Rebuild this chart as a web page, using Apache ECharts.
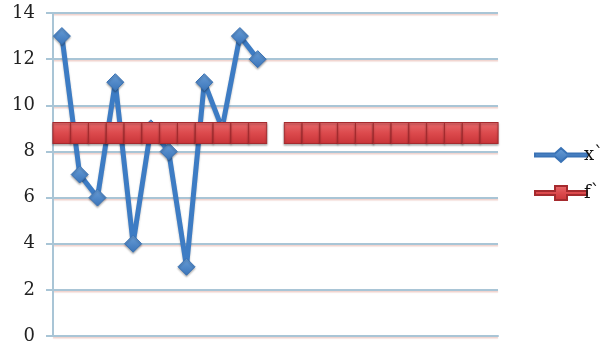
<!DOCTYPE html>
<html>
<head>
<meta charset="utf-8">
<script src="https://cdn.jsdelivr.net/npm/echarts@6/dist/echarts.min.js"></script>
<style>
  html, body { margin: 0; padding: 0; background: #ffffff; }
  #chart { width: 600px; height: 347px; }
</style>
</head>
<body>
<div id="chart"></div>
<script>
// Category positions along the horizontal axis (unlabelled)
const categories = Array.from({ length: 25 }, (_, i) => String(i + 1));

// Series values
const xSeries = [13, 7, 6, 11, 4, 9, 8, 3, 11, 9, 13, 12];
const fSeries = [8.8, 8.8, 8.8, 8.8, 8.8, 8.8, 8.8, 8.8, 8.8, 8.8, 8.8, 8.8, null,
                 8.8, 8.8, 8.8, 8.8, 8.8, 8.8, 8.8, 8.8, 8.8, 8.8, 8.8, 8.8];

// Value axis ticks
const yTicks = { min: 0, max: 14, interval: 2 };

const seriesNames = ['x`', 'f`'];

const chart = echarts.init(document.getElementById('chart'), null, { renderer: 'canvas' });

const gridColor = '#a9c5d6';
const serif = '"DejaVu Serif", "Liberation Serif", serif';

chart.setOption({
  animation: false,
  backgroundColor: '#ffffff',
  grid: { left: 53, right: 102, top: 13, bottom: 11 },
  legend: {
    orient: 'vertical',
    left: 529,
    top: 141,
    itemGap: 20,
    itemWidth: 52,
    itemHeight: 14,
    textStyle: { fontFamily: serif, fontSize: 18, color: '#111', padding: [0, 0, 0, -8] },
    data: [
      { name: seriesNames[0], icon: 'path://M0,5.5 L20,5.5 L26,0 L32,5.5 L52,5.5 L52,8.5 L32,8.5 L26,14 L20,8.5 L0,8.5 Z' },
      { name: seriesNames[1], icon: 'path://M0,5 L20,5 L20,0 L32,0 L32,5 L52,5 L52,9 L32,9 L32,14 L20,14 L20,9 L0,9 Z' }
    ]
  },
  xAxis: {
    type: 'category',
    data: categories,
    boundaryGap: true,
    axisLine: { show: true, lineStyle: { color: gridColor, width: 2 } },
    axisTick: { show: false },
    axisLabel: { show: false, interval: 0 },
    splitLine: { show: false }
  },
  yAxis: {
    type: 'value',
    min: yTicks.min,
    max: yTicks.max,
    interval: yTicks.interval,
    axisLine: { show: true, lineStyle: { color: gridColor, width: 2 } },
    axisTick: { show: true, length: 7, lineStyle: { color: gridColor, width: 2 } },
    axisLabel: { fontFamily: serif, fontSize: 18, color: '#222', margin: 18 },
    splitLine: { show: true, lineStyle: { color: gridColor, width: 2, shadowColor: 'rgba(220,150,140,0.45)', shadowOffsetY: 1.5, shadowBlur: 1 } }
  },
  series: [
    {
      name: seriesNames[0],
      type: 'line',
      data: xSeries,
      showSymbol: true,
      showAllSymbol: true,
      symbol: 'diamond',
      symbolSize: 17,
      z: 2,
      lineStyle: { color: '#3d7cc4', width: 5, shadowColor: 'rgba(0,0,0,0.25)', shadowBlur: 2, shadowOffsetY: 1.5 },
      itemStyle: {
        color: new echarts.graphic.LinearGradient(0, 0, 0, 1, [
          { offset: 0, color: '#6a9fd8' },
          { offset: 1, color: '#3a74b9' }
        ]),
        borderColor: '#3a73b6',
        borderWidth: 1,
        shadowColor: 'rgba(0,0,0,0.3)',
        shadowBlur: 2,
        shadowOffsetY: 1.5
      }
    },
    {
      name: seriesNames[1],
      type: 'line',
      data: fSeries,
      connectNulls: false,
      showSymbol: true,
      showAllSymbol: true,
      symbol: 'rect',
      symbolSize: [18, 21],
      z: 3,
      lineStyle: { color: '#c9393d', width: 4 },
      itemStyle: {
        color: new echarts.graphic.LinearGradient(0, 0, 0, 1, [
          { offset: 0, color: '#e86b6d' },
          { offset: 0.5, color: '#dc4a4d' },
          { offset: 1, color: '#c83438' }
        ]),
        borderColor: '#a52a2e',
        borderWidth: 1,
        shadowColor: 'rgba(0,0,0,0.3)',
        shadowBlur: 2,
        shadowOffsetY: 1.5
      }
    }
  ]
});
</script>
</body>
</html>
